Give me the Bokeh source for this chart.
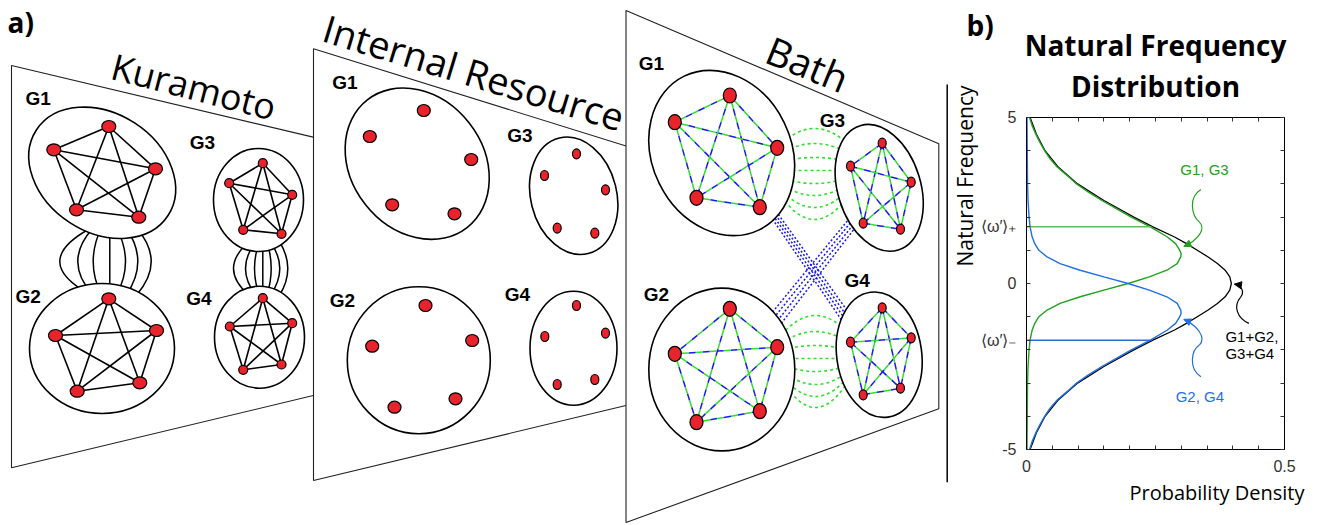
import itertools
from bokeh.plotting import figure
from bokeh.layouts import row
from bokeh.models import Range1d, Arrow, NormalHead, FixedTicker, LinearAxis, Title
from bokeh.core.properties import value
from bokeh.embed import file_html
from bokeh.resources import INLINE

# ======================= panel b data =======================
g13_freq = [5, 4.75, 4.5, 4.25, 4, 3.75, 3.5, 3.25, 3, 2.75, 2.5, 2.25, 2, 1.7, 1.4, 1.2, 1.0, 0.9, 0.8,
            0.6, 0.4, 0.2, 0, -0.2, -0.4, -0.6, -0.8, -1.0, -1.2, -1.4, -1.7, -2, -2.5, -3, -4, -5]
g13_density = [0.006, 0.011, 0.018, 0.026, 0.035, 0.046, 0.060, 0.079, 0.097, 0.120, 0.146, 0.175, 0.203,
               0.241, 0.273, 0.289, 0.297, 0.2995, 0.299, 0.292, 0.272, 0.238, 0.197, 0.150, 0.104, 0.065,
               0.040, 0.024, 0.016, 0.011, 0.007, 0.005, 0.003, 0.002, 0.0015, 0.001]
g24_freq = [-5, -4.75, -4.5, -4.25, -4, -3.75, -3.5, -3.25, -3, -2.75, -2.5, -2.25, -2, -1.7, -1.4, -1.2, -1.0,
            -0.9, -0.8, -0.6, -0.4, -0.2, 0, 0.2, 0.4, 0.6, 0.8, 1.0, 1.2, 1.4, 1.7, 2, 2.5, 3, 4, 5]
g24_density = [0.006, 0.011, 0.018, 0.026, 0.035, 0.046, 0.060, 0.079, 0.097, 0.120, 0.146, 0.175, 0.203,
               0.241, 0.273, 0.289, 0.297, 0.2995, 0.299, 0.292, 0.272, 0.238, 0.197, 0.150, 0.104, 0.065,
               0.040, 0.024, 0.016, 0.011, 0.007, 0.005, 0.003, 0.002, 0.0015, 0.001]
total_freq = [5, 4.5, 4, 3.5, 3, 2.5, 2, 1.7, 1.4, 1.2, 1.0, 0.8, 0.6, 0.4, 0.2, 0,
              -0.2, -0.4, -0.6, -0.8, -1.0, -1.2, -1.4, -1.7, -2, -2.5, -3, -3.5, -4, -4.5, -5]
total_density = [0.007, 0.019, 0.036, 0.062, 0.099, 0.150, 0.208, 0.246, 0.287, 0.310, 0.331, 0.352, 0.370,
                 0.385, 0.394, 0.397, 0.394, 0.385, 0.370, 0.352, 0.331, 0.310, 0.287, 0.246, 0.208, 0.150,
                 0.099, 0.062, 0.036, 0.019, 0.007]
omega_plus = 1.71
omega_minus = -1.71
omega_line_end = 0.242

y_ticks = [-5, -4, -3, -2, omega_minus, -1, 0, 1, omega_plus, 2, 3, 4, 5]
y_tick_labels = {-5: "-5", 0: "0", 5: "5", omega_plus: "⟨ω′⟩₊", omega_minus: "⟨ω′⟩₋"}
frame_ticks_y = [-5, -4, -3, -2, -1, 0, 1, 2, 3, 4, 5]
x_ticks = [0, 0.05, 0.1, 0.15, 0.2, 0.25, 0.3, 0.35, 0.4, 0.45, 0.5]
x_tick_labels = {0: "0", 0.5: "0.5"}

curve_label_text = ["G1, G3", "G2, G4"]
curve_label_x = [0.345, 0.336]
curve_label_y = [3.43, -3.40]
sum_label_text = ["G1+G2,", "G3+G4"]
sum_label_x = [0.3855, 0.3855]
sum_label_y = [-1.61, -2.12]

# squiggly arrows: cubic bezier pieces (x0, y0, x1, y1, cx0, cy0, cx1, cy1)
green_arrow = [(0.338, 2.83, 0.335, 1.85, 0.313, 2.59, 0.320, 2.05),
               (0.335, 1.85, 0.305, 1.12, 0.349, 1.66, 0.332, 1.30)]
green_head = (0.312, 1.168, 0.305, 1.12)
blue_arrow = [(0.338, -2.81, 0.335, -1.855, 0.313, -2.55, 0.320, -2.01),
              (0.335, -1.855, 0.305, -1.08, 0.349, -1.64, 0.332, -1.28)]
blue_head = (0.312, -1.128, 0.305, -1.08)
black_arrow = [(0.431, -1.20, 0.415, -0.41, 0.408, -1.04, 0.400, -0.68),
               (0.415, -0.41, 0.403, -0.02, 0.424, -0.23, 0.415, -0.05)]
black_head = (0.4106, -0.038, 0.403, -0.02)

# ======================= panel a data (schematic, picture coordinates) =======================
panel_x = [[11, 320, 320, 11], [313, 640, 640, 313], [625.5, 938.3, 938.3, 625.5]]
panel_y = [[65, 138.4, 393.3, 467.3], [48.3, 150, 401.5, 480], [10, 143.3, 408.3, 522]]
rule_x, rule_y0, rule_y1 = 946.7, 84, 481.7

heading_text = ["Kuramoto", "Internal Resource", "Bath"]
heading_x = [112, 324, 768]
heading_y = [65, 26, 47]
heading_angle = [-14.5, -16.9, -22.2]
heading_size = ["36px", "38px", "39px"]

group_names = ["G1", "G2", "G3", "G4"]
kur_label_x = [25, 15, 189.3, 185.7]
kur_label_y = [97.5, 295.8, 142, 297.8]
int_label_x = [331.7, 329.3, 506.7, 504.3]
int_label_y = [82, 300, 135.3, 293.7]
bath_label_x = [638.3, 643.3, 819.3, 844]
bath_label_y = [63.3, 293.8, 119.5, 280]

kur_ring_x = [101.7, 101.5, 258, 259]
kur_ring_y = [172.3, 348, 199.5, 336.7]
kur_ring_w = [157, 145, 90, 90]
kur_ring_h = [119, 130, 103, 102]
kur_ring_angle = [-33, 0, 0, 0]
int_ring_x = [416.7, 418.3, 573.2, 573]
int_ring_y = [163.2, 359.7, 195.3, 347.8]
int_ring_w = [162, 143, 86, 87]
int_ring_h = [132, 147, 119, 114]
int_ring_angle = [-52, 0, 14, 0]
bath_ring_x = [721.2, 721.3, 878.7, 878.7]
bath_ring_y = [152.5, 369, 187.3, 354.2]
bath_ring_w = [171, 146, 83, 85]
bath_ring_h = [139, 163, 130, 126]
bath_ring_angle = [-64, 0, 17, 8]

kur_node_x = [[53.3, 108.3, 155, 76, 138.3], [108.3, 55, 156, 76.7, 139.3],
              [262.3, 228.7, 291.7, 242.7, 281], [262.3, 229.3, 291.7, 242.7, 281]]
kur_node_y = [[149.3, 126, 168.3, 209.3, 216.7], [298.3, 335, 330, 390.7, 382.3],
              [162.7, 182.7, 194.3, 229.3, 233.3], [297.7, 326, 322.7, 369.3, 364]]
kur_node_w = [14, 14, 9, 9]
kur_node_h = [12, 12, 9, 9]
int_node_x = [[423.3, 369.3, 470.7, 391.7, 454], [425, 371.7, 471.7, 394, 455],
              [576, 544, 605, 556.7, 594.3], [576, 544.3, 605, 556.7, 594.3]]
int_node_y = [[110, 136, 159, 204.3, 213.3], [305, 345.7, 340, 406.7, 398.3],
              [153.3, 175, 189.3, 227.7, 232.7], [305, 336, 332.7, 384, 379]]
int_node_w = [13, 13, 8, 8]
int_node_h = [12, 12, 10, 10]
bath_node_x = [[729.3, 674.3, 776.7, 696, 759.3], [729.3, 674.3, 776.7, 696, 759.3],
               [881.7, 850, 910.7, 862.7, 900], [881.7, 850, 910.7, 862.7, 900]]
bath_node_y = [[95, 121.7, 147.3, 197.3, 206.7], [308.3, 353.3, 346.7, 421.7, 410.7],
               [142.7, 165.7, 181.7, 222.7, 228.7], [307.3, 341.7, 337.3, 394.3, 387.7]]
bath_node_w = [13, 13, 8, 8]
bath_node_h = [15, 15, 10, 10]

# Kuramoto coupling arcs (vertical fans): mid-gap x and x where each meets the rings
k12_mid_x = [59.3, 77.3, 92.7, 109.3, 125, 137.3, 150.7]
k12_bound_x = [76.7, 85.8, 97.2, 109.3, 120, 130.8, 142.5]
k12_gap = (261, 25, 33)      # centre y, half gap, half length drawn
k34_mid_x = [233, 245, 254, 262.3, 270.7, 279.3, 287.3]
k34_bound_x = [241.7, 250.7, 256.7, 262.3, 268.3, 274, 282.7]
k34_gap = (268, 20, 27)
# Bath green dotted arcs (horizontal fans)
b13_mid_y = [128, 143, 157, 170, 183, 195, 207, 219]
b13_bound_y = [136, 148, 159, 170, 180, 189, 198, 207]
b13_gap = (814, 24, 40)
b24_mid_y = [315, 331, 345, 358, 371, 384, 396, 407]
b24_bound_y = [323, 336, 347, 358, 368, 378, 387, 395]
b24_gap = (815, 22, 38)
# Bath blue dotted cross links
cross_a = ([775, 777.7, 780.3, 783], [223, 222.3, 221.7, 221], [840, 842.7, 845.3, 848], [318, 316, 314, 312])
cross_b = ([841.7, 844.5, 847.2, 850], [226.7, 228.9, 231.1, 233.3], [773.3, 776.1, 778.9, 781.7], [310, 313.9, 317.8, 321.7])

RED = "#e8232b"
BLUE_D = "#1a1ae6"
GREEN_D = "#2ee02e"


def fan_vertical(mid, bound, gap):
    c, hh, L = gap
    f = (L / hh) ** 2
    xe = [m + (b - m) * f for m, b in zip(mid, bound)]
    cx = [2 * m - e for m, e in zip(mid, xe)]
    return dict(x0=xe, y0=[c - L] * len(mid), x1=xe, y1=[c + L] * len(mid), cx=cx, cy=[c] * len(mid))


def fan_horizontal(mid, bound, gap):
    c, hw, L = gap
    f = (L / hw) ** 2
    ye = [m + (b - m) * f for m, b in zip(mid, bound)]
    cy = [2 * m - e for m, e in zip(mid, ye)]
    return dict(x0=[c - L] * len(mid), y0=ye, x1=[c + L] * len(mid), y1=ye, cx=[c] * len(mid), cy=cy)


def extend(seg, k=0.15):
    xs, ys, xe, ye = seg
    x0 = [a - (b - a) * k for a, b in zip(xs, xe)]
    y0 = [a - (b - a) * k for a, b in zip(ys, ye)]
    x1 = [b + (b - a) * k for a, b in zip(xs, xe)]
    y1 = [b + (b - a) * k for a, b in zip(ys, ye)]
    return dict(x0=x0, y0=y0, x1=x1, y1=y1)


def k5(xs, ys):
    pr = list(itertools.combinations(range(len(xs)), 2))
    return dict(x0=[xs[i] for i, j in pr], y0=[ys[i] for i, j in pr],
                x1=[xs[j] for i, j in pr], y1=[ys[j] for i, j in pr])


# ======================= figure a =======================
pa = figure(width=948, height=525, x_range=Range1d(0, 948), y_range=Range1d(525, 0),
            toolbar_location=None, output_backend="svg", min_border=0, frame_align=False,
            x_axis_type=None, y_axis_type=None, outline_line_color=None)
pa.grid.visible = False


def rings(rx, ry, rw, rh, ra):
    pa.ellipse(rx, ry, width=rw, height=rh, angle=ra, angle_units="deg",
               fill_color="white", line_color=None)
    pa.ellipse(rx, ry, width=rw, height=rh, angle=ra, angle_units="deg",
               fill_color=None, line_color="black", line_width=1.6)


def nodes(nx, ny, nw, nh):
    for g in range(4):
        pa.ellipse(nx[g], ny[g], width=nw[g], height=nh[g], fill_color=RED,
                   line_color="black", line_width=1.2)


def glabels(lx, ly):
    pa.text(lx, ly, text=group_names, text_font=value("Liberation Sans"), text_font_style="bold",
            text_font_size="19px", text_align="left", text_baseline="middle", text_color="black")


# --- Kuramoto panel
pa.patch(panel_x[0], panel_y[0], fill_color="white", line_color="#222222", line_width=1.1)
pa.quadratic(**fan_vertical(k12_mid_x, k12_bound_x, k12_gap), line_color="black", line_width=1.5)
pa.quadratic(**fan_vertical(k34_mid_x, k34_bound_x, k34_gap), line_color="black", line_width=1.5)
rings(kur_ring_x, kur_ring_y, kur_ring_w, kur_ring_h, kur_ring_angle)
for g in range(4):
    pa.segment(**k5(kur_node_x[g], kur_node_y[g]), line_color="black", line_width=1.6)
nodes(kur_node_x, kur_node_y, kur_node_w, kur_node_h)
glabels(kur_label_x, kur_label_y)

# --- Internal resource panel
pa.patch(panel_x[1], panel_y[1], fill_color="white", line_color="#222222", line_width=1.1)
rings(int_ring_x, int_ring_y, int_ring_w, int_ring_h, int_ring_angle)
nodes(int_node_x, int_node_y, int_node_w, int_node_h)
glabels(int_label_x, int_label_y)

# --- Bath panel
pa.patch(panel_x[2], panel_y[2], fill_color="white", line_color="#222222", line_width=1.1)
pa.quadratic(**fan_horizontal(b13_mid_y, b13_bound_y, b13_gap), line_color=GREEN_D, line_width=1.6, line_dash="3 3")
pa.quadratic(**fan_horizontal(b24_mid_y, b24_bound_y, b24_gap), line_color=GREEN_D, line_width=1.6, line_dash="3 3")
pa.segment(**extend(cross_a), line_color=BLUE_D, line_width=1.5, line_dash="2 2")
pa.segment(**extend(cross_b), line_color=BLUE_D, line_width=1.5, line_dash="2 2")
rings(bath_ring_x, bath_ring_y, bath_ring_w, bath_ring_h, bath_ring_angle)
for g in range(4):
    e = k5(bath_node_x[g], bath_node_y[g])
    pa.segment(**e, line_color=BLUE_D, line_width=1.5, line_dash="7 7")
    pa.segment(**e, line_color=GREEN_D, line_width=1.5, line_dash="7 7", line_dash_offset=7)
nodes(bath_node_x, bath_node_y, bath_node_w, bath_node_h)
glabels(bath_label_x, bath_label_y)

pa.segment(x0=[rule_x], y0=[rule_y0], x1=[rule_x], y1=[rule_y1], line_color="black", line_width=1.5)

for t, x, y, a, s in zip(heading_text, heading_x, heading_y, heading_angle, heading_size):
    pa.text([x], [y], text=[t], angle=a, angle_units="deg", text_font=value("Open Sans"),
            text_font_size=s, text_align="left", text_baseline="middle", text_color="black")
pa.text([7], [21], text=["a)"], text_font=value("Open Sans"), text_font_style="bold",
        text_font_size="28px", text_align="left", text_baseline="middle", text_color="black")

# ======================= figure b =======================
pb = figure(width=376, height=525, x_range=Range1d(0, 0.5), y_range=Range1d(-5, 5),
            toolbar_location=None, output_backend="svg", frame_align=False,
            min_border_left=74, min_border_right=40, min_border_top=117, min_border_bottom=76,
            outline_line_color="black")
pb.grid.visible = False
pb.title.visible = False


def style_axis(ax, ticks, overrides, show):
    ax.ticker = FixedTicker(ticks=ticks, minor_ticks=[])
    ax.major_label_overrides = {t: overrides.get(t, "") for t in ticks}
    ax.major_tick_in = 4
    ax.major_tick_out = 0
    ax.minor_tick_in = 0
    ax.minor_tick_out = 0
    ax.axis_line_color = "black"
    ax.major_tick_line_color = "#333333"
    ax.major_label_text_font = "Liberation Sans"
    if show:
        ax.major_label_text_font_size = "16px"
        ax.major_label_text_color = "#333333"
        ax.major_label_standoff = 10
    else:
        ax.major_label_text_font_size = "0px"
        ax.major_label_text_color = None
        ax.major_label_standoff = 0


style_axis(pb.yaxis[0], y_ticks, y_tick_labels, True)
style_axis(pb.xaxis[0], x_ticks, x_tick_labels, True)
ra = LinearAxis()
style_axis(ra, frame_ticks_y, {}, False)
pb.add_layout(ra, "right")
ta = LinearAxis()
style_axis(ta, x_ticks, {}, False)
pb.add_layout(ta, "above")

pb.line(total_density, total_freq, line_color="black", line_width=1.3)
pb.line(g13_density, g13_freq, line_color="#22a022", line_width=1.4)
pb.line(g24_density, g24_freq, line_color="#1f6fe6", line_width=1.4)
pb.segment(x0=[0], y0=[omega_plus], x1=[omega_line_end], y1=[omega_plus], line_color="#5cbf5c", line_width=1.6)
pb.segment(x0=[0], y0=[omega_minus], x1=[omega_line_end], y1=[omega_minus], line_color="#2a6ee0", line_width=1.4)


def squiggle(pieces, head, color):
    pb.bezier(x0=[p[0] for p in pieces], y0=[p[1] for p in pieces], x1=[p[2] for p in pieces],
              y1=[p[3] for p in pieces], cx0=[p[4] for p in pieces], cy0=[p[5] for p in pieces],
              cx1=[p[6] for p in pieces], cy1=[p[7] for p in pieces], line_color=color, line_width=1.2)
    pb.add_layout(Arrow(end=NormalHead(size=7, fill_color=color, line_color=color),
                        x_start=head[0], y_start=head[1], x_end=head[2], y_end=head[3],
                        line_color=color, line_width=1.2))


squiggle(green_arrow, green_head, "#22a022")
squiggle(blue_arrow, blue_head, "#1f6fe6")
squiggle(black_arrow, black_head, "black")

pb.text(curve_label_x[:1], curve_label_y[:1], text=curve_label_text[:1], text_color="#22a022",
        text_font=value("Liberation Sans"), text_font_size="15px", text_align="center", text_baseline="middle")
pb.text(curve_label_x[1:], curve_label_y[1:], text=curve_label_text[1:], text_color="#1f6fe6",
        text_font=value("Liberation Sans"), text_font_size="15px", text_align="center", text_baseline="middle")
pb.text(sum_label_x, sum_label_y, text=sum_label_text, text_color="black",
        text_font=value("Liberation Sans"), text_font_size="15px", text_align="left", text_baseline="middle")

# texts around the frame, as titles
pb.add_layout(Title(text="Distribution", align="center", standoff=25, text_font="Open Sans",
                    text_font_style="bold", text_font_size="28px", text_color="black"), "above")
pb.add_layout(Title(text="Natural Frequency", align="center", standoff=-23, text_font="Open Sans",
                    text_font_style="bold", text_font_size="28px", text_color="black"), "above")
pb.add_layout(Title(text="b)", align="left", offset=-60, standoff=-17, text_font="Open Sans",
                    text_font_style="bold", text_font_size="28px", text_color="black"), "above")
pb.add_layout(Title(text="Natural Frequency", align="right", offset=-32, standoff=0, text_font="Open Sans",
                    text_font_style="normal", text_font_size="21px", text_color="black"), "left")
pb.add_layout(Title(text="Probability Density", align="right", offset=-20, standoff=4, text_font="Open Sans",
                    text_font_style="normal", text_font_size="20px", text_color="black"), "below")

layout = row(pa, pb)
open("out.html", "w").write(file_html(layout, INLINE))
